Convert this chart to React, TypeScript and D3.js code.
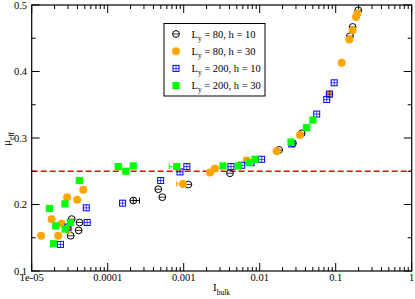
import * as d3 from "d3";

// [I_bulk, mu_eff, xLo?, xHi?]
type Pt = [number, number, number?, number?];

const ly80h10: Pt[] = [
  [3.36e-5, 0.178], [4.26e-5, 0.173], [4.15e-5, 0.161], [3.26e-5, 0.153],
  [2.17e-4, 0.206, 2.17e-4, 2.62e-4], [4.63e-4, 0.223], [5.23e-4, 0.211],
  [1.15e-3, 0.23], [4.06e-3, 0.247], [0.018, 0.282], [0.0274, 0.292],
  [0.0357, 0.307], [0.154, 0.453], [0.167, 0.467], [0.198, 0.492],
];
const ly80h30: Pt[] = [
  [1.33e-5, 0.153], [1.83e-5, 0.178], [2.23e-5, 0.153], [2.48e-5, 0.171],
  [2.93e-5, 0.211], [3.97e-5, 0.207], [4.77e-5, 0.222], [3.03e-5, 0.162],
  [9.8e-4, 0.231, 8.09e-4, 9.8e-4], [2.22e-3, 0.248], [2.58e-3, 0.254],
  [6.75e-3, 0.266], [0.01675, 0.28], [0.0339, 0.3045], [0.0824, 0.366],
  [0.12, 0.413], [0.151, 0.448], [0.167, 0.462], [0.185, 0.482], [0.192, 0.487],
];
const ly200h10: Pt[] = [
  [2.39e-5, 0.14], [3.0e-5, 0.166], [5.23e-5, 0.195], [5.37e-5, 0.173],
  [1.57e-4, 0.202], [4.98e-4, 0.236], [8.94e-4, 0.249], [1.1e-3, 0.257],
  [4.19e-3, 0.257], [5.8e-3, 0.259], [7.69e-3, 0.263], [0.0106, 0.268],
  [0.0264, 0.291], [0.0562, 0.336], [0.0762, 0.358], [0.0828, 0.366], [0.0955, 0.383],
];
const ly200h30: Pt[] = [
  [1.71e-5, 0.194], [1.94e-5, 0.141], [2.07e-5, 0.168], [2.74e-5, 0.201],
  [2.76e-5, 0.163], [3.21e-5, 0.173], [4.23e-5, 0.236], [1.38e-4, 0.257],
  [1.73e-4, 0.25], [2.17e-4, 0.258], [8.09e-4, 0.257, 6.47e-4, 8.09e-4],
  [3.29e-3, 0.258], [5.23e-3, 0.258], [7.23e-3, 0.263], [8.67e-3, 0.268],
  [0.0258, 0.294], [0.0415, 0.3155], [0.0502, 0.327],
];

const legendLy = ["80", "80", "200", "200"];
const legendH = ["10", "30", "10", "30"];
const xTickVals = [1e-5, 1e-4, 1e-3, 1e-2, 1e-1, 1];
const xTickLabels = ["1e-05", "0.0001", "0.001", "0.01", "0.1", "1"];
const yTickVals = [0.1, 0.2, 0.3, 0.4, 0.5];
const yMinorVals = [0.15, 0.25, 0.35, 0.45];
const refLine = 0.25;

const W = 415;
const H = 299;
const L = 31.7, R = 411.7, T = 5, B = 271;
const FONT = "'Liberation Serif', 'DejaVu Serif', serif";

const x = d3.scaleLog().domain([1e-5, 1]).range([L, R]);
const y = d3.scaleLinear().domain([0.1, 0.5]).range([B, T]);

type Kind = "ocircle" | "fcircle" | "osquare" | "fsquare";

function Marker({ kind, cx, cy }: { kind: Kind; cx: number; cy: number }) {
  if (kind === "ocircle")
    return (
      <g>
        <circle cx={cx} cy={cy} r={3.4} fill="none" stroke="#000" strokeWidth={1} />
        <line x1={cx - 3.4} x2={cx + 3.4} y1={cy} y2={cy} stroke="#000" strokeWidth={0.8} />
      </g>
    );
  if (kind === "fcircle") return <circle cx={cx} cy={cy} r={4} fill="#ffa500" />;
  if (kind === "osquare")
    return (
      <g>
        <rect x={cx - 3} y={cy - 3} width={6} height={6} fill="none" stroke="#0000ff" strokeWidth={1} />
        <line x1={cx - 3} x2={cx + 3} y1={cy} y2={cy} stroke="#0000ff" strokeWidth={0.7} />
        <line x1={cx} x2={cx} y1={cy - 3} y2={cy + 3} stroke="#0000ff" strokeWidth={0.7} />
      </g>
    );
  return <rect x={cx - 3.6} y={cy - 3.6} width={7.2} height={7.2} fill="#00ff00" />;
}

const series: { data: Pt[]; kind: Kind; err: string }[] = [
  { data: ly80h10, kind: "ocircle", err: "#000" },
  { data: ly80h30, kind: "fcircle", err: "#ffa500" },
  { data: ly200h10, kind: "osquare", err: "#0000ff" },
  { data: ly200h30, kind: "fsquare", err: "#00ff00" },
];
const legendKinds: Kind[] = ["ocircle", "fcircle", "osquare", "fsquare"];

export default function App() {
  const xAll = x.ticks();
  const xMinor = xAll.filter((v) => Math.abs(Math.log10(v) - Math.round(Math.log10(v))) > 1e-6);

  return (
    <svg
      width={W}
      height={H}
      style={{ position: "absolute", left: 0, top: 0, background: "#fff" }}
      fontFamily={FONT}
    >
      {/* reference line */}
      <line x1={L} x2={R} y1={y(refLine)} y2={y(refLine)} stroke="#ff0000" strokeWidth={1.3} strokeDasharray="6 3" />

      {/* data */}
      {series.map((s, si) => (
        <g key={si}>
          {s.data.map((p, i) =>
            p[2] !== undefined ? (
              <g key={"e" + i} stroke={s.err} strokeWidth={1}>
                <line x1={x(p[2]!)} x2={x(p[3]!)} y1={y(p[1])} y2={y(p[1])} />
                <line x1={x(p[2]!)} x2={x(p[2]!)} y1={y(p[1]) - 3} y2={y(p[1]) + 3} />
                <line x1={x(p[3]!)} x2={x(p[3]!)} y1={y(p[1]) - 3} y2={y(p[1]) + 3} />
              </g>
            ) : null
          )}
          {s.data.map((p, i) => (
            <Marker key={i} kind={s.kind} cx={x(p[0])} cy={y(p[1])} />
          ))}
        </g>
      ))}

      {/* frame */}
      <rect x={L} y={T} width={R - L} height={B - T} fill="none" stroke="#000" strokeWidth={1.2} />

      {/* x ticks */}
      {xTickVals.map((v) => (
        <g key={"xm" + v} stroke="#000" strokeWidth={1}>
          <line x1={x(v)} x2={x(v)} y1={B} y2={B - 8} />
          <line x1={x(v)} x2={x(v)} y1={T} y2={T + 8} />
        </g>
      ))}
      {xMinor.map((v) => (
        <g key={"xn" + v} stroke="#000" strokeWidth={1}>
          <line x1={x(v)} x2={x(v)} y1={B} y2={B - 4} />
          <line x1={x(v)} x2={x(v)} y1={T} y2={T + 4} />
        </g>
      ))}
      {xTickVals.map((v, i) => (
        <text key={"xl" + v} x={x(v)} y={281} textAnchor="middle" fontSize={10.5}>
          {xTickLabels[i]}
        </text>
      ))}

      {/* y ticks */}
      {yTickVals.map((v) => (
        <g key={"ym" + v} stroke="#000" strokeWidth={1}>
          <line x1={L} x2={L + 8} y1={y(v)} y2={y(v)} />
          <line x1={R} x2={R - 8} y1={y(v)} y2={y(v)} />
        </g>
      ))}
      {yMinorVals.map((v) => (
        <g key={"yn" + v} stroke="#000" strokeWidth={1}>
          <line x1={L} x2={L + 4} y1={y(v)} y2={y(v)} />
          <line x1={R} x2={R - 4} y1={y(v)} y2={y(v)} />
        </g>
      ))}
      {yTickVals.map((v) => (
        <text key={"yl" + v} x={27} y={y(v) + 3.6} textAnchor="end" fontSize={10.5}>
          {d3.format(".1f")(v)}
        </text>
      ))}

      {/* axis titles */}
      <text x={213} y={291} fontSize={11}>
        I<tspan fontSize={7.5} dy={3.5}>bulk</tspan>
      </text>
      <text transform="translate(10,146) rotate(-90)" fontSize={11}>
        μ<tspan fontSize={7.5} dy={3.5}>eff</tspan>
      </text>

      {/* legend */}
      <rect x={164} y={23.5} width={101} height={72.5} fill="#fff" stroke="#000" strokeWidth={1} />
      {legendKinds.map((k, i) => {
        const ly = 34 + i * 17.2;
        return (
          <g key={"lg" + i}>
            <Marker kind={k} cx={176} cy={ly} />
            <text x={191.5} y={ly + 3.5} fontSize={10.5}>
              L<tspan fontSize={7.5} dy={3}>y</tspan>
              <tspan dy={-3}>{` = ${legendLy[i]}, h = ${legendH[i]}`}</tspan>
            </text>
          </g>
        );
      })}
    </svg>
  );
}
